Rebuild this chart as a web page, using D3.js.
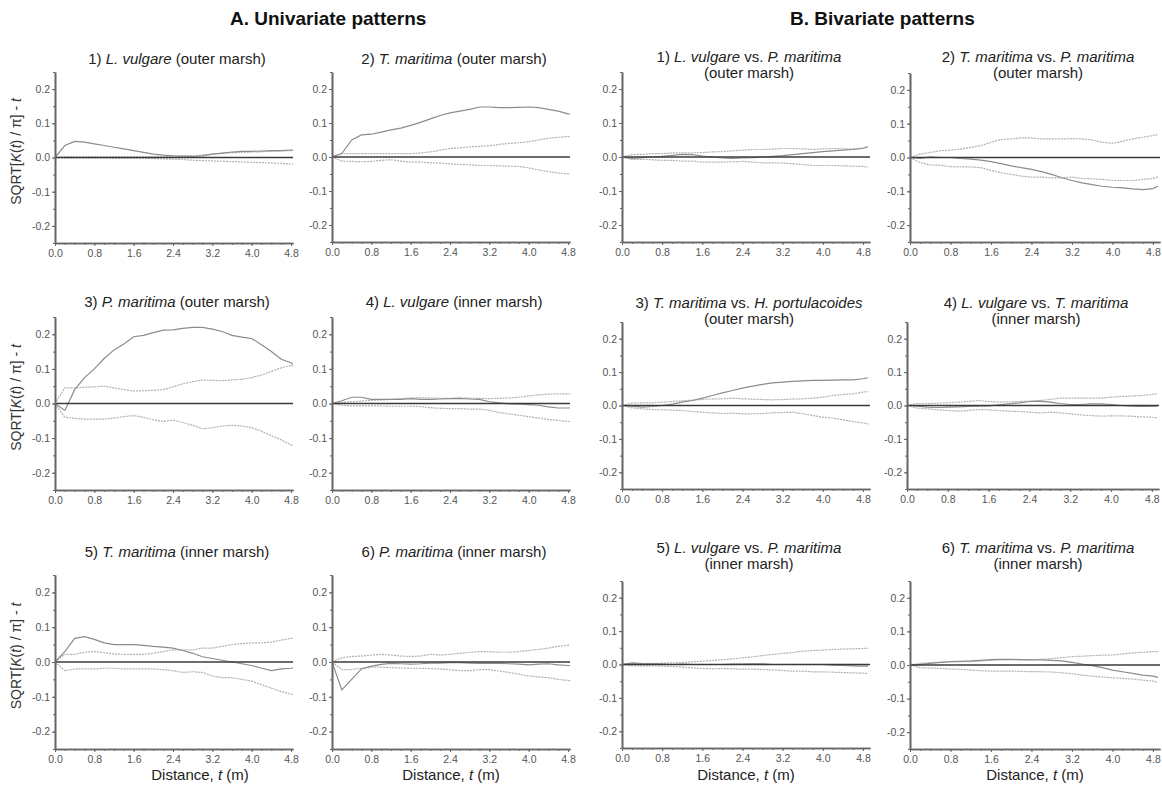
<!DOCTYPE html>
<html>
<head>
<meta charset="utf-8">
<script src="https://cdn.jsdelivr.net/npm/d3@7"></script>
<style>
  body { margin: 0; background: #fff; }
  svg { display: block; }
  text { font-family: "Liberation Sans", Arial, sans-serif; }
</style>
</head>
<body>
<div id="chart"></div>
<script>
// distance t (m) at which every curve was read
var distances = [0, 0.2, 0.4, 0.6, 0.8, 1.0, 1.2, 1.4, 1.6, 1.8, 2.0, 2.2, 2.4, 2.6, 2.8, 3.0, 3.2, 3.4, 3.6, 3.8, 4.0, 4.2, 4.4, 4.6, 4.8, 4.9];
var xTickLabels = [0, 0.8, 1.6, 2.4, 3.2, 4.0, 4.8];
var yTickLabels = [-0.2, -0.1, 0, 0.1, 0.2];

// A. univariate: observed, upper and lower envelope
var a1Obs = [0, .035, .047, .045, .04, .035, .03, .025, .02, .015, .01, .007, .005, .004, .003, .005, .01, .013, .016, .018, .018, .019, .02, .02, .022, .022];
var a1Hi  = [0, .002, .002, .002, .002, .002, .002, .002, .002, .002, .002, .002, .004, .004, .005, .007, .01, .012, .014, .015, .016, .017, .018, .019, .02, .021];
var a1Lo  = [0, -.001, -.001, -.001, -.001, -.001, -.002, -.002, -.002, -.002, -.003, -.004, -.005, -.006, -.008, -.009, -.01, -.011, -.012, -.013, -.014, -.015, -.016, -.017, -.019, -.019];

var a2Obs = [0, .01, .05, .065, .067, .073, .08, .085, .093, .102, .112, .122, .13, .135, .14, .147, .147, .145, .145, .146, .147, .145, .14, .135, .127, .124];
var a2Hi  = [0, .01, .01, .01, .01, .01, .01, .01, .01, .012, .015, .02, .025, .027, .03, .031, .033, .037, .04, .042, .045, .05, .055, .058, .06, .06];
var a2Lo  = [0, -.012, -.013, -.014, -.013, -.01, -.008, -.012, -.015, -.015, -.017, -.018, -.02, -.022, -.023, -.025, -.025, -.026, -.027, -.028, -.032, -.038, -.043, -.047, -.05, -.05];

var a3Obs = [0, -.02, .04, .075, .1, .13, .155, .172, .193, .197, .205, .212, .213, .217, .22, .22, .215, .208, .197, .192, .188, .17, .15, .128, .118, .105];
var a3Hi  = [0, .045, .045, .047, .048, .05, .045, .04, .036, .037, .038, .04, .048, .057, .063, .068, .067, .066, .068, .07, .075, .082, .093, .103, .11, .105];
var a3Lo  = [0, -.04, -.043, -.045, -.045, -.045, -.042, -.038, -.035, -.04, -.047, -.052, -.048, -.055, -.063, -.073, -.07, -.065, -.063, -.065, -.07, -.08, -.093, -.105, -.12, -.118];

var a4Obs = [0, .008, .018, .018, .012, .012, .012, .012, .014, .012, .012, .013, .014, .015, .013, .012, .005, .002, -.001, -.002, -.003, -.005, -.01, -.013, -.013, -.013];
var a4Hi  = [0, .003, .005, .007, .009, .01, .012, .014, .016, .017, .016, .015, .015, .016, .015, .015, .014, .015, .016, .018, .022, .025, .027, .028, .028, .028];
var a4Lo  = [0, -.005, -.007, -.007, -.007, -.007, -.008, -.008, -.008, -.009, -.012, -.014, -.015, -.015, -.016, -.016, -.02, -.026, -.03, -.034, -.038, -.042, -.046, -.049, -.052, -.052];

var a5Obs = [0, .03, .068, .073, .065, .055, .05, .05, .05, .048, .045, .043, .04, .033, .025, .015, .01, .005, 0, -.005, -.01, -.018, -.025, -.02, -.018, -.015];
var a5Hi  = [0, .022, .022, .028, .03, .027, .023, .022, .022, .022, .025, .03, .035, .035, .035, .04, .04, .045, .05, .053, .055, .055, .057, .063, .068, .068];
var a5Lo  = [0, -.025, -.02, -.02, -.02, -.018, -.018, -.02, -.02, -.02, -.02, -.022, -.025, -.03, -.028, -.03, -.04, -.045, -.045, -.05, -.055, -.065, -.075, -.085, -.092, -.095];

var a6Obs = [0, -.08, -.05, -.02, -.012, -.007, -.004, -.005, -.006, -.005, -.003, -.003, -.002, -.002, -.003, -.004, -.004, -.004, -.005, -.006, -.008, -.006, -.005, -.008, -.01, -.01];
var a6Hi  = [0, .012, .016, .017, .02, .022, .02, .017, .016, .017, .022, .02, .022, .025, .028, .03, .03, .028, .028, .03, .033, .036, .04, .045, .048, .05];
var a6Lo  = [0, -.022, -.022, -.018, -.015, -.015, -.016, -.017, -.018, -.018, -.019, -.02, -.022, -.025, -.025, -.022, -.022, -.026, -.03, -.035, -.04, -.043, -.045, -.05, -.053, -.055];

// B. bivariate: observed, upper and lower envelope
var b1Obs = [0, -.004, -.002, 0, .002, .005, .008, .007, .003, 0, -.003, -.004, -.003, -.002, 0, .002, .004, .007, .01, .013, .016, .018, .02, .022, .025, .03];
var b1Hi  = [0, .007, .008, .01, .01, .012, .012, .012, .013, .015, .016, .018, .02, .022, .022, .023, .025, .025, .024, .022, .024, .025, .024, .024, .027, .03];
var b1Lo  = [0, -.007, -.007, -.008, -.01, -.01, -.012, -.012, -.015, -.015, -.015, -.014, -.013, -.015, -.017, -.017, -.018, -.02, -.022, -.025, -.025, -.025, -.026, -.027, -.028, -.03];

var b2Obs = [0, -.003, .002, 0, 0, -.003, -.005, -.008, -.012, -.018, -.025, -.03, -.035, -.042, -.05, -.06, -.068, -.075, -.08, -.085, -.088, -.09, -.093, -.095, -.092, -.085];
var b2Hi  = [0, .01, .015, .02, .022, .025, .03, .035, .045, .053, .055, .058, .058, .055, .055, .055, .056, .055, .052, .045, .042, .048, .055, .06, .065, .068];
var b2Lo  = [0, -.015, -.022, -.023, -.027, -.028, -.028, -.03, -.038, -.045, -.05, -.055, -.058, -.058, -.06, -.06, -.058, -.062, -.063, -.065, -.068, -.068, -.068, -.065, -.062, -.058];

var b3Obs = [0, -.002, -.005, -.003, 0, .004, .01, .015, .022, .03, .038, .045, .052, .058, .063, .068, .07, .072, .074, .075, .075, .076, .077, .077, .08, .083];
var b3Hi  = [0, .007, .008, .008, .01, .012, .014, .016, .018, .02, .02, .022, .02, .019, .018, .017, .018, .019, .02, .022, .025, .03, .033, .035, .04, .042];
var b3Lo  = [0, -.007, -.01, -.012, -.013, -.014, -.015, -.018, -.02, -.022, -.024, -.023, -.025, -.025, -.024, -.022, -.021, -.02, -.025, -.03, -.035, -.038, -.043, -.048, -.052, -.055];

var b4Obs = [0, -.002, -.005, -.006, -.005, -.004, -.003, -.002, -.001, .002, .005, .008, .012, .013, .01, .006, .003, .003, .005, .005, .003, 0, -.002, -.003, -.002, -.002];
var b4Hi  = [0, .006, .006, .007, .008, .01, .012, .015, .012, .01, .011, .012, .013, .015, .018, .022, .022, .022, .022, .022, .025, .027, .028, .03, .033, .035];
var b4Lo  = [0, -.008, -.01, -.013, -.015, -.017, -.015, -.012, -.013, -.015, -.017, -.018, -.02, -.022, -.02, -.022, -.025, -.028, -.03, -.032, -.031, -.031, -.032, -.034, -.035, -.037];

var b5Obs = [0, .005, .003, .002, .001, 0, .001, 0, 0, 0, 0, .001, .001, .002, .002, 0, 0, 0, 0, 0, 0, -.002, -.003, -.004, -.005, -.005];
var b5Hi  = [0, .003, .003, .003, .004, .005, .006, .008, .01, .012, .014, .017, .02, .023, .027, .03, .033, .036, .04, .042, .043, .045, .046, .047, .048, .048];
var b5Lo  = [0, -.004, -.004, -.004, -.005, -.006, -.008, -.01, -.012, -.013, -.012, -.013, -.014, -.014, -.015, -.016, -.018, -.02, -.02, -.022, -.022, -.023, -.024, -.025, -.026, -.027];

var b6Obs = [0, .002, .005, .008, .01, .011, .012, .014, .016, .017, .017, .016, .015, .015, .014, .012, .008, .003, -.002, -.008, -.015, -.02, -.025, -.03, -.033, -.037];
var b6Hi  = [0, .005, .007, .008, .01, .01, .01, .012, .014, .015, .015, .015, .016, .017, .019, .022, .025, .026, .028, .029, .03, .033, .036, .038, .04, .04];
var b6Lo  = [0, -.008, -.009, -.01, -.012, -.013, -.015, -.017, -.018, -.018, -.018, -.019, -.02, -.02, -.021, -.023, -.026, -.03, -.033, -.036, -.038, -.04, -.042, -.045, -.048, -.052];

// panel titles, *...* = italic, | = line break
var titlesA = [
  "1) *L. vulgare* (outer marsh)",
  "2) *T. maritima* (outer marsh)",
  "3) *P. maritima* (outer marsh)",
  "4) *L. vulgare* (inner marsh)",
  "5) *T. maritima* (inner marsh)",
  "6) *P. maritima* (inner marsh)"
];
var titlesB = [
  "1) *L. vulgare* vs. *P. maritima*|(outer marsh)",
  "2) *T. maritima* vs. *P. maritima*|(outer marsh)",
  "3) *T. maritima* vs. *H. portulacoides*|(outer marsh)",
  "4) *L. vulgare* vs. *T. maritima*|(inner marsh)",
  "5) *L. vulgare* vs. *P. maritima*|(inner marsh)",
  "6) *T. maritima* vs. *P. maritima*|(inner marsh)"
];

var panels = [
  {key: "a1", group: "A", title: titlesA[0], obs: a1Obs, hi: a1Hi, lo: a1Lo},
  {key: "a2", group: "A", title: titlesA[1], obs: a2Obs, hi: a2Hi, lo: a2Lo},
  {key: "a3", group: "A", title: titlesA[2], obs: a3Obs, hi: a3Hi, lo: a3Lo},
  {key: "a4", group: "A", title: titlesA[3], obs: a4Obs, hi: a4Hi, lo: a4Lo},
  {key: "a5", group: "A", title: titlesA[4], obs: a5Obs, hi: a5Hi, lo: a5Lo},
  {key: "a6", group: "A", title: titlesA[5], obs: a6Obs, hi: a6Hi, lo: a6Lo},
  {key: "b1", group: "B", title: titlesB[0], obs: b1Obs, hi: b1Hi, lo: b1Lo},
  {key: "b2", group: "B", title: titlesB[1], obs: b2Obs, hi: b2Hi, lo: b2Lo},
  {key: "b3", group: "B", title: titlesB[2], obs: b3Obs, hi: b3Hi, lo: b3Lo},
  {key: "b4", group: "B", title: titlesB[3], obs: b4Obs, hi: b4Hi, lo: b4Lo},
  {key: "b5", group: "B", title: titlesB[4], obs: b5Obs, hi: b5Hi, lo: b5Lo},
  {key: "b6", group: "B", title: titlesB[5], obs: b6Obs, hi: b6Hi, lo: b6Lo}
];

// plot boxes [left, top, right, bottom] and title baselines
var boxes = {
  a1: [55, 72, 293, 243],  a2: [332, 72, 570, 242],
  a3: [55, 317, 293, 490], a4: [332, 317, 570, 490],
  a5: [55, 575, 293, 749], a6: [332, 575, 570, 749],
  b1: [622, 72, 870, 242],  b2: [910, 73, 1160, 242],
  b3: [622, 322, 870, 489], b4: [907, 322, 1159, 489],
  b5: [622, 581, 870, 748], b6: [910, 581, 1160, 749]
};
var titleY = {
  a1: 64, a2: 64, a3: 307, a4: 307, a5: 557, a6: 557,
  b1: 62, b2: 62, b3: 308, b4: 308, b5: 553, b6: 553
};
var xMax = {A: 4.84, B: 4.94};

var svg = d3.select("#chart").append("svg")
  .attr("width", 1162).attr("height", 786);
var defs = svg.append("defs");

function richText(sel, str) {
  str.split("*").forEach(function(s, i){
    if (!s) return;
    sel.append("tspan").attr("font-style", i % 2 ? "italic" : "normal").text(s);
  });
}

var tickFmt = function(d){ return d.toFixed(1); };

panels.forEach(function(p, i){
  var b = boxes[p.key];
  var x = d3.scaleLinear().domain([0, xMax[p.group]]).range([b[0], b[2]]);
  var y = d3.scaleLinear().domain([-0.25, 0.25]).range([b[3], b[1]]);
  var g = svg.append("g");

  defs.append("clipPath").attr("id", "clip" + i)
    .append("rect").attr("x", b[0]).attr("y", b[1] - 2)
    .attr("width", b[2] - b[0]).attr("height", b[3] - b[1] + 2);

  // title
  p.title.split("|").forEach(function(l, k){
    var t = g.append("text")
      .attr("x", (b[0] + b[2]) / 2 + 3)
      .attr("y", titleY[p.key] + k * 16)
      .attr("text-anchor", "middle")
      .attr("font-size", 15).attr("fill", "#222");
    richText(t, l);
  });

  // curves
  var line = d3.line()
    .x(function(d, j){ return x(distances[j]); })
    .y(function(d){ return y(d); });
  var curves = g.append("g").attr("clip-path", "url(#clip" + i + ")");
  [p.hi, p.lo].forEach(function(s){
    curves.append("path").attr("d", line(s))
      .attr("fill", "none").attr("stroke", "#b0b0b0")
      .attr("stroke-width", 1.2).attr("stroke-dasharray", "2,1");
  });
  curves.append("path").attr("d", line(p.obs))
    .attr("fill", "none").attr("stroke", "#8c8c8c").attr("stroke-width", 1.2);

  // zero line
  g.append("line")
    .attr("x1", x(0)).attr("x2", b[2]).attr("y1", y(0)).attr("y2", y(0))
    .attr("stroke", "#3a3a3a").attr("stroke-width", 1.5);

  // axes: minor ticks first, then labelled ticks
  var xa = g.append("g").attr("transform", "translate(0," + b[3] + ")");
  xa.append("g").call(d3.axisBottom(x).tickValues(d3.range(0, 4.81, 0.2))
    .tickSize(2).tickSizeOuter(0).tickFormat(""));
  xa.append("g").call(d3.axisBottom(x).tickValues(xTickLabels)
    .tickSize(3).tickPadding(4).tickSizeOuter(0).tickFormat(tickFmt));

  var ya = g.append("g").attr("transform", "translate(" + b[0] + ",0)");
  ya.append("g").call(d3.axisLeft(y).tickValues(d3.range(-0.25, 0.26, 0.05))
    .tickSize(2).tickSizeOuter(0).tickFormat(""));
  ya.append("g").call(d3.axisLeft(y).tickValues(yTickLabels)
    .tickSize(3).tickPadding(2).tickSizeOuter(0).tickFormat(tickFmt));

  g.selectAll(".domain").attr("stroke", "#666").attr("stroke-width", 1.6);
  g.selectAll(".tick line").attr("stroke", "#666");
  g.selectAll(".tick text").attr("fill", "#555").attr("font-size", 10.5)
    .attr("font-family", "\"Liberation Sans\", Arial, sans-serif");

  // y label on the first column
  if (p.key === "a1" || p.key === "a3" || p.key === "a5") {
    var yl = g.append("text")
      .attr("transform", "translate(21," + (y(0) - 6) + ") rotate(-90)")
      .attr("text-anchor", "middle").attr("font-size", 14).attr("fill", "#333");
    richText(yl, "SQRT[*K*(*t*) / π] - *t*");
  }
  // x label on the bottom row
  if (/[ab][56]/.test(p.key)) {
    var xl = g.append("text")
      .attr("x", (b[0] + b[2]) / 2 + (p.key === "a5" ? 26 : 0))
      .attr("y", 780)
      .attr("text-anchor", "middle").attr("font-size", 15).attr("fill", "#222");
    richText(xl, "Distance, *t* (m)");
  }
});

// block headings
svg.append("text").attr("x", 230).attr("y", 25)
  .attr("font-size", 19).attr("font-weight", "bold").attr("fill", "#111")
  .text("A. Univariate patterns");
svg.append("text").attr("x", 790).attr("y", 25)
  .attr("font-size", 19).attr("font-weight", "bold").attr("fill", "#111")
  .text("B. Bivariate patterns");
</script>
</body>
</html>
